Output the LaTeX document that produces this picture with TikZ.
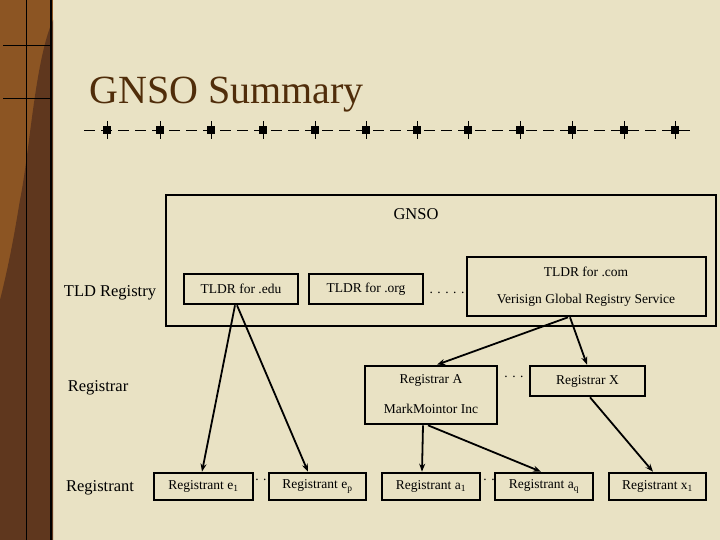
\documentclass[tikz,border=0pt]{standalone}
\usepackage{fontspec}
\setmainfont{Liberation Serif}
\usetikzlibrary{arrows.meta}
\begin{document}
\begin{tikzpicture}[x=1pt,y=-1pt,
  bx/.style={draw=black,line width=2.6pt,inner sep=0pt},
  lbl/.style={font=\fontsize{13.5}{15}\selectfont},
  side/.style={font=\fontsize{16.5}{18}\selectfont},
  arr/.style={line width=1.8pt,-{Stealth[length=8pt,width=6pt]}}]
\useasboundingbox (0,0) rectangle (720,540);
\fill[fill={rgb,255:red,233;green,226;blue,196}] (0,0) rectangle (720,540);
% left decorative bar
\fill[fill={rgb,255:red,140;green,85;blue,35}] (0,0) rectangle (53,540);
\fill[fill={rgb,255:red,95;green,55;blue,30}] (20,200) .. controls (30,150) and (35,60) .. (53,20) -- (53,540) -- (0,540) -- (0,300) .. controls (10,260) and (15,230) .. (20,200);
\draw[line width=2pt] (51,0) -- (51,540);
\draw[line width=0.6pt] (26,0) -- (26,540) (3,45) -- (51,45) (3,98) -- (51,98);
% title
\node[anchor=west,text={rgb,255:red,80;green,45;blue,10},font=\fontsize{40}{44}\selectfont] (title) at (86,95) {GNSO Summary};
% rule
\draw[line width=0.9pt,dash pattern=on 11pt off 6pt] (84,130) -- (696,130);
\foreach \xx in {107,160,211,263,315,366,417,468,520,572,624,675}{
  \fill (\xx-4,126) rectangle (\xx+4,134);
  \draw[line width=0.6pt] (\xx,121) -- (\xx,139);
}
% GNSO box
\node[bx,minimum width=550pt,minimum height=131pt] (gnso) at (441,260.5) {};
\node[side] (gt) at (416,214) {GNSO};
\node[bx,minimum width=114pt,minimum height=30pt,lbl] (edu) at (241,289) {TLDR for .edu};
\node[bx,minimum width=114pt,minimum height=30pt,lbl] (org) at (366,289) {TLDR for .org};
\node[lbl] (d1) at (447,293) {. . . . .};
\node[bx,minimum width=239pt,minimum height=59pt] (com) at (586.5,286.5) {};
\node[lbl] (comt) at (586,272) {TLDR for .com};
\node[lbl] (comv) at (586,300) {Verisign Global Registry Service};
% registrars
\node[bx,minimum width=132pt,minimum height=58pt] (ra) at (431,395) {};
\node[lbl] (rat) at (431,380) {Registrar A};
\node[lbl] (ram) at (431,409) {MarkMointor Inc};
\node[lbl] (d2) at (514,377) {. . .};
\node[bx,minimum width=115pt,minimum height=30pt,lbl] (rx) at (587.5,381) {Registrar X};
% registrants
\node[bx,minimum width=99pt,minimum height=27pt,lbl] (e1) at (203.5,486.5) {Registrant e\textsubscript{1}};
\node[lbl] (d3) at (261,480) {. .};
\node[bx,minimum width=97pt,minimum height=27pt,lbl] (ep) at (317.5,486.5) {Registrant e\textsubscript{p}};
\node[bx,minimum width=98pt,minimum height=27pt,lbl] (a1) at (431,486.5) {Registrant a\textsubscript{1}};
\node[lbl] (d4) at (489,480) {. .};
\node[bx,minimum width=98pt,minimum height=27pt,lbl] (aq) at (544,486.5) {Registrant a\textsubscript{q}};
\node[bx,minimum width=97pt,minimum height=27pt,lbl] (x1) at (657.5,486.5) {Registrant x\textsubscript{1}};
% side labels
\node[side] (l1) at (110,293) {TLD Registry};
\node[side] (l2) at (98,388) {Registrar};
\node[side] (l3) at (100,488) {Registrant};
% arrows
\draw[arr] (edu.south -| 235,0) -- (e1.north -| 202,0);
\draw[arr] (edu.south -| 237,0) -- (ep.north -| 308,0);
\draw[arr] (com.south -| 568,0) -- (ra.north -| 437,0);
\draw[arr] (com.south -| 570,0) -- (rx.north -| 587,0);
\draw[arr] (ra.south -| 423,0) -- (a1.north -| 422,0);
\draw[arr] (ra.south -| 428,0) -- (aq.north -| 541,0);
\draw[arr] (rx.south -| 590,0) -- (x1.north -| 653,0);
\end{tikzpicture}
\end{document}
